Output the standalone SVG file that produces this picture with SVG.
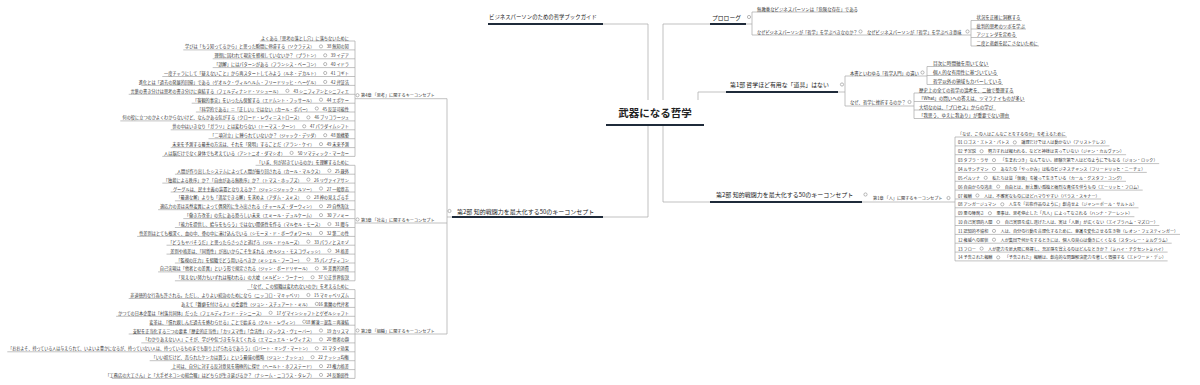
<svg xmlns="http://www.w3.org/2000/svg" width="1200" height="385" viewBox="0 0 1200 385">
<style>
text{font-family:"Noto Sans CJK JP","Noto Sans CJK SC",sans-serif;fill:#333;dominant-baseline:central}
.s{font-size:4.2px}
.r{font-size:4.15px}
.e{text-anchor:end}
.m{font-size:4.4px}
.g{font-size:4.6px}
.q{font-size:4.5px}
.n{font-size:4.3px}
.h{font-size:4.15px}
.p{font-size:5.9px;fill:#222}
.ti{font-size:10.5px;font-weight:700;fill:#222;text-anchor:middle}
.l{stroke:#a8a8a8;stroke-width:0.7;fill:none}
.k{stroke:#1f2b3a;stroke-width:2;fill:none}
.c{fill:#fff;stroke:#8a8a8a;stroke-width:0.6}
</style>
<rect width="1200" height="385" fill="#fff"/>
<g id="connectors">
<path class="l" d="M648 100V24H603M648 125V217H603M663 100V24H710M698 100V92H726M663 125V202H710"/>
<path class="l" d="M746 24H752M752 12V35M752 12H857M752 35H971M971 20.5V46M971 20.5H1021.5M971 29H1026M971 37.5H1017M971 46H1039"/>
<path class="l" d="M838 92H845M845 76V106M845 76H927M927 66.5V84.5M927 66.5H989M927 75.5H998M927 84.5H1003M845 106H914M914 93V118.5M914 93H1014M914 101.5H1025M914 110H996M914 118.5H1010"/>
<path class="l" d="M862 202H955M955 137V260.9"/>
<path class="l" d="M955 137H1066.9M955 145.9H1109.5M955 154.7H1126.1M955 163.6H1159.2M955 172.4H1146.8M955 181.3H1126M955 190.1H1142.7M955 199H1101.1M955 207.8H1138.5M955 216.7H1134.4M955 225.5H1159.3M955 234.4H1180M955 243.2H1171.7M955 252.1H1167.6M955 260.9H1167.6"/>
<path class="l" d="M447 217H452M447 98.7V334M355 98.7H447M355 223H447M355 334H447M355 41V156.4M355 165.3V280.8M355 289.6V378.4"/>
<path class="l" d="M259.8 41H355M183.3 49.9H355M212.7 58.8H355M212.7 67.6H355M162.3 76.5H355M141.3 85.4H355M128.7 94.3H355M191.7 103.2H355M195.9 112H355M120.3 120.9H355M170.7 129.8H355M208.5 138.7H355M170.7 147.6H355M162.3 156.4H355"/>
<path class="l" d="M255.6 165.3H355M174.9 174.2H355M162.3 183.1H355M170.7 192H355M174.9 200.8H355M158.1 209.7H355M183.3 218.6H355M174.9 227.5H355M137.1 236.4H355M166.5 245.2H355M166.5 254.1H355M174.9 263H355M158.1 271.9H355M174.9 280.8H355"/>
<path class="l" d="M247.2 289.6H355M128.7 298.5H355M183.3 307.4H355M116.1 316.3H355M149.7 325.2H355M128.7 334H355M141.3 342.9H355M7.3 351.8H355M149.7 360.7H355M170.7 369.6H355M111.9 378.4H355"/>
<path class="k" d="M488 24H603M710 24H746M726 92H838M452 217H603M710 202H862"/>
<path class="k" d="M606 125H704" stroke-width="2.5"/>
</g>
<g id="center"><text class="ti" x="655" y="112">武器になる哲学</text></g>
<g id="guide"><text class="p" x="489" y="16.5" style="font-size:5.4px">ビジネスパーソンのための哲学ブックガイド</text></g>
<g id="prologue"><text class="p" x="712" y="17" style="font-size:5.8px">プロローグ</text><circle class="c" cx="749" cy="17" r="1.6"/></g>
<g id="pro-a"><text class="m" x="757" y="8.5">無教養なビジネスパーソンは「危険な存在」である</text></g>
<g id="pro-b"><text class="s" x="757" y="31.5">なぜビジネスパーソンが「哲学」を学ぶべきなのか？</text><circle class="c" cx="860.5" cy="31.5" r="1.6"/></g>
<g id="pro-b2"><text class="n" x="867" y="31.5">なぜビジネスパーソンが「哲学」を学ぶべき意味</text><circle class="c" cx="967.5" cy="31.5" r="1.6"/></g>
<g id="pro-b2-kids">
<text class="m" x="976.5" y="17">状況を正確に洞察する</text>
<text class="m" x="976.5" y="25.5">批判的思考のツボを学ぶ</text>
<text class="m" x="976.5" y="34">アジェンダを定める</text>
<text class="m" x="976.5" y="42.5">二度と悲劇を起こさないために</text>
</g>
<g id="part1"><text class="p" x="730" y="84.5">第1部 哲学ほど有用な「道具」はない</text><circle class="c" cx="842" cy="84.5" r="1.6"/></g>
<g id="p1-c"><text class="n" x="850" y="72.5">本書といわゆる「哲学入門」の違い</text><circle class="c" cx="922.5" cy="72.5" r="1.6"/></g>
<g id="p1-c-kids">
<text class="g" x="933" y="63">目次に時間軸を用いてない</text>
<text class="g" x="933" y="72">個人的な有用性に基づいている</text>
<text class="g" x="933" y="81">哲学以外の領域もカバーしている</text>
</g>
<g id="p1-d"><text class="n" x="850" y="102">なぜ、哲学に挫折するのか？</text><circle class="c" cx="909.5" cy="102" r="1.6"/></g>
<g id="p1-d-kids">
<text class="q" x="919" y="89.5">歴史上の全ての哲学の論考を、二軸で整理する</text>
<text class="q" x="919" y="98">「What」の問いへの答えは、ツマラナイものが多い</text>
<text class="q" x="919" y="106.5">大切なのは、「プロセス」からの学び</text>
<text class="q" x="919" y="115">「我思う、ゆえに我あり」が重要でない理由</text>
</g>
<g id="part2-right"><text class="p" x="716" y="194.5" style="font-size:6px">第2部 知的戦闘力を最大化する50のキーコンセプト</text><circle class="c" cx="865.5" cy="194.5" r="1.6"/></g>
<g id="ch1"><text class="h" x="873" y="198">第1章 「人」に関するキーコンセプト</text><circle class="c" cx="948.5" cy="198" r="1.6"/></g>
<g id="ch1-list">
<text class="r" x="958" y="133.5">「なぜ、この人はこんなことをするのか」を考えるために</text>
<g id="n01"><text class="r" x="958" y="142.4">01 ロゴス・エトス・パトス</text><circle class="c" cx="1014.8" cy="142.4" r="1.6"/><text class="r" x="1021.3" y="142.4">論理だけでは人は動かない（アリストテレス）</text></g>
<g id="n02"><text class="r" x="958" y="151.2">02 予定説</text><circle class="c" cx="981.6" cy="151.2" r="1.6"/><text class="r" x="988.1" y="151.2">努力すれば報われる、などと神様は言っていない（ジャン・カルヴァン）</text></g>
<g id="n03"><text class="r" x="958" y="160.1">03 タブラ・ラサ</text><circle class="c" cx="994" cy="160.1" r="1.6"/><text class="r" x="1000.5" y="160.1">「生まれつき」なんてない。経験次第で人はどのようにでもなる（ジョン・ロック）</text></g>
<g id="n04"><text class="r" x="958" y="168.9">04 ルサンチマン</text><circle class="c" cx="994" cy="168.9" r="1.6"/><text class="r" x="1000.5" y="168.9">あなたの「やっかみ」は私のビジネスチャンス（フリードリッヒ・ニーチェ）</text></g>
<g id="n05"><text class="r" x="958" y="177.8">05 ペルソナ</text><circle class="c" cx="985.7" cy="177.8" r="1.6"/><text class="r" x="992.2" y="177.8">私たちは皆「仮面」を被って生きている（カール・グスタフ・ユング）</text></g>
<g id="n06"><text class="r" x="958" y="186.6">06 自由からの逃走</text><circle class="c" cx="998.2" cy="186.6" r="1.6"/><text class="r" x="1004.7" y="186.6">自由とは、耐え難い孤独と痛烈な責任を伴うもの（エーリッヒ・フロム）</text></g>
<g id="n07"><text class="r" x="958" y="195.5">07 報酬</text><circle class="c" cx="977.4" cy="195.5" r="1.6"/><text class="r" x="983.9" y="195.5">人は、不確実なものにほどハマりやすい（バラス・スキナー）</text></g>
<g id="n08"><text class="r" x="958" y="204.3">08 アンガージュマン</text><circle class="c" cx="1002.3" cy="204.3" r="1.6"/><text class="r" x="1008.8" y="204.3">人生を「芸術作品のように」創造せよ（ジャン＝ポール・サルトル）</text></g>
<g id="n09"><text class="r" x="958" y="213.2">09 悪の陳腐さ</text><circle class="c" cx="989.9" cy="213.2" r="1.6"/><text class="r" x="996.4" y="213.2">悪事は、思考停止した「凡人」によってなされる（ハンナ・アーレント）</text></g>
<g id="n10"><text class="r" x="958" y="222">10 自己実現的人間</text><circle class="c" cx="998.2" cy="222" r="1.6"/><text class="r" x="1004.7" y="222">自己実現を成し遂げた人は、実は「人脈」が広くない（エイブラハム・マズロー）</text></g>
<g id="n11"><text class="r" x="958" y="230.9">11 認知的不協和</text><circle class="c" cx="994" cy="230.9" r="1.6"/><text class="r" x="1000.5" y="230.9">人は、自分の行動を合理化するために、意識を変化させる生き物（レオン・フェスティンガー）</text></g>
<g id="n12"><text class="r" x="958" y="239.7">12 権威への服従</text><circle class="c" cx="994" cy="239.7" r="1.6"/><text class="r" x="1000.5" y="239.7">人が集団で何かをするときには、個人の良心は働きにくくなる（スタンレー・ミルグラム）</text></g>
<g id="n13"><text class="r" x="958" y="248.6">13 フロー</text><circle class="c" cx="981.6" cy="248.6" r="1.6"/><text class="r" x="988.1" y="248.6">人が能力を最大限に発揮し、充足感を覚えるのはどんなときか？（ミハイ・チクセントミハイ）</text></g>
<g id="n14"><text class="r" x="958" y="257.4">14 予告された報酬</text><circle class="c" cx="998.2" cy="257.4" r="1.6"/><text class="r" x="1004.7" y="257.4">「予告された」報酬は、創造的な問題解決能力を著しく毀損する（エドワード・デシ）</text></g>
</g>
<g id="part2-left"><text class="p" x="457" y="211" style="font-size:6px">第2部 知的戦闘力を最大化する50のキーコンセプト</text><circle class="c" cx="449.5" cy="211" r="1.6"/></g>
<g id="ch4"><text class="h" x="361" y="95.2">第4章 「思考」に関するキーコンセプト</text><circle class="c" cx="357.5" cy="95.2" r="1.6"/></g>
<g id="ch3"><text class="h" x="361" y="219.5">第3章 「社会」に関するキーコンセプト</text><circle class="c" cx="357.5" cy="219.5" r="1.6"/></g>
<g id="ch2"><text class="h" x="361" y="330.5">第2章 「組織」に関するキーコンセプト</text><circle class="c" cx="357.5" cy="330.5" r="1.6"/></g>
<g id="ch4-list">
<text class="s e" x="349" y="37.5">よくある「思考の落とし穴」に落ちないために</text>
<g id="n38"><text class="s e" x="314.5" y="46.4">学びは「もう知ってるから」と思った瞬間に停滞する（ソクラテス）</text><circle class="c" cx="321" cy="46.4" r="1.6"/><text class="s e" x="349" y="46.4">38 無知の知</text></g>
<g id="n39"><text class="s e" x="318.7" y="55.3">理想に囚われて現実を軽視していないか？（プラトン）</text><circle class="c" cx="325.2" cy="55.3" r="1.6"/><text class="s e" x="349" y="55.3">39 イデア</text></g>
<g id="n40"><text class="s e" x="318.7" y="64.1">「誤解」にはパターンがある（フランシス・ベーコン）</text><circle class="c" cx="325.2" cy="64.1" r="1.6"/><text class="s e" x="349" y="64.1">40 イドラ</text></g>
<g id="n41"><text class="s e" x="318.7" y="73">一度チャラにして「疑えないこと」から再スタートしてみよう（ルネ・デカルト）</text><circle class="c" cx="325.2" cy="73" r="1.6"/><text class="s e" x="349" y="73">41 コギト</text></g>
<g id="n42"><text class="s e" x="318.7" y="81.9">進化とは「過去の発展的回帰」である（ゲオルク・ヴィルヘルム・フリードリッヒ・ヘーゲル）</text><circle class="c" cx="325.2" cy="81.9" r="1.6"/><text class="s e" x="349" y="81.9">42 弁証法</text></g>
<g id="n43"><text class="s e" x="280.9" y="90.8">言葉の書き分けは思考の書き分けに直結する（フェルディナンド・ソシュール）</text><circle class="c" cx="287.4" cy="90.8" r="1.6"/><text class="s e" x="349" y="90.8">43 シニフィアンとシニフィエ</text></g>
<g id="n44"><text class="s e" x="314.5" y="99.7">「客観的事実」をいったん保留する（エドムント・フッサール）</text><circle class="c" cx="321" cy="99.7" r="1.6"/><text class="s e" x="349" y="99.7">44 エポケー</text></g>
<g id="n45"><text class="s e" x="310.3" y="108.5">「科学的である」＝「正しい」ではない（カール・ポパー）</text><circle class="c" cx="316.8" cy="108.5" r="1.6"/><text class="s e" x="349" y="108.5">45 反証可能性</text></g>
<g id="n46"><text class="s e" x="301.9" y="117.4">何の役に立つのかよくわからないけど、なんかある気がする（クロード・レヴィ＝ストロース）</text><circle class="c" cx="308.4" cy="117.4" r="1.6"/><text class="s e" x="349" y="117.4">46 ブリコラージュ</text></g>
<g id="n47"><text class="s e" x="297.7" y="126.3">世の中はいきなり「ガラリ」とは変わらない（トーマス・クーン）</text><circle class="c" cx="304.2" cy="126.3" r="1.6"/><text class="s e" x="349" y="126.3">47 パラダイムシフト</text></g>
<g id="n48"><text class="s e" x="318.7" y="135.2">「二項対立」に縛られていないか？（ジャック・デリダ）</text><circle class="c" cx="325.2" cy="135.2" r="1.6"/><text class="s e" x="349" y="135.2">48 脱構築</text></g>
<g id="n49"><text class="s e" x="314.5" y="144.1">未来を予測する最善の方法は、それを「発明」することだ（アラン・ケイ）</text><circle class="c" cx="321" cy="144.1" r="1.6"/><text class="s e" x="349" y="144.1">49 未来予測</text></g>
<g id="n50"><text class="s e" x="285.1" y="152.9">人は脳だけでなく身体でも考えている（アントニオ・ダマシオ）</text><circle class="c" cx="291.6" cy="152.9" r="1.6"/><text class="s e" x="349" y="152.9">50 ソマティック・マーカー</text></g>
</g>
<g id="ch3-list">
<text class="s e" x="349" y="161.8">「いま、何が起きているのか」を理解するために</text>
<g id="n25"><text class="s e" x="322.9" y="170.7">人間が作り出したシステムによって人間が振り回される（カール・マルクス）</text><circle class="c" cx="329.4" cy="170.7" r="1.6"/><text class="s e" x="349" y="170.7">25 疎外</text></g>
<g id="n26"><text class="s e" x="301.9" y="179.6">「独裁による秩序」か？「自由がある無秩序」か？（トマス・ホッブズ）</text><circle class="c" cx="308.4" cy="179.6" r="1.6"/><text class="s e" x="349" y="179.6">26 リヴァイアサン</text></g>
<g id="n27"><text class="s e" x="314.5" y="188.5">グーグルは、民主主義の装置となりえるか？（ジャン＝ジャック・ルソー）</text><circle class="c" cx="321" cy="188.5" r="1.6"/><text class="s e" x="349" y="188.5">27 一般意志</text></g>
<g id="n28"><text class="s e" x="301.9" y="197.3">「最適な解」よりも「満足できる解」を求めよ（アダム・スミス）</text><circle class="c" cx="308.4" cy="197.3" r="1.6"/><text class="s e" x="349" y="197.3">28 神の見えざる手</text></g>
<g id="n29"><text class="s e" x="314.5" y="206.2">適応力の差は突然変異によって偶発的に生み出される（チャールズ・ダーウィン）</text><circle class="c" cx="321" cy="206.2" r="1.6"/><text class="s e" x="349" y="206.2">29 自然淘汰</text></g>
<g id="n30"><text class="s e" x="314.5" y="215.1">「働き方改革」の先にある恐ろしい未来（エミール・デュルケーム）</text><circle class="c" cx="321" cy="215.1" r="1.6"/><text class="s e" x="349" y="215.1">30 アノミー</text></g>
<g id="n31"><text class="s e" x="322.9" y="224">「能力を提供し、給与をもらう」ではない関係性を作る（マルセル・モース）</text><circle class="c" cx="329.4" cy="224" r="1.6"/><text class="s e" x="349" y="224">31 贈与</text></g>
<g id="n32"><text class="s e" x="314.5" y="232.9">性差別はとても根深く、血の中、骨の中に溶け込んでいる（シモーヌ・ド・ボーヴォワール）</text><circle class="c" cx="321" cy="232.9" r="1.6"/><text class="s e" x="349" y="232.9">32 第二の性</text></g>
<g id="n33"><text class="s e" x="301.9" y="241.7">「どうもヤバそうだ」と思ったらさっさと逃げろ（ジル・ドゥルーズ）</text><circle class="c" cx="308.4" cy="241.7" r="1.6"/><text class="s e" x="349" y="241.7">33 パラノとスキゾ</text></g>
<g id="n34"><text class="s e" x="322.9" y="250.6">差別や格差は、「同質性」が高いからこそ生まれる（セルジュ・モスコヴィッシ）</text><circle class="c" cx="329.4" cy="250.6" r="1.6"/><text class="s e" x="349" y="250.6">34 格差</text></g>
<g id="n35"><text class="s e" x="301.9" y="259.5">「監視の圧力」を組織でどう用いるべきか（ミシェル・フーコー）</text><circle class="c" cx="308.4" cy="259.5" r="1.6"/><text class="s e" x="349" y="259.5">35 パノプティコン</text></g>
<g id="n36"><text class="s e" x="310.3" y="268.4">自己実現は「他者との差異」という形で規定される（ジャン・ボードリヤール）</text><circle class="c" cx="316.8" cy="268.4" r="1.6"/><text class="s e" x="349" y="268.4">36 差異的消費</text></g>
<g id="n37"><text class="s e" x="306.1" y="277.3">「見えない努力もいずれは報われる」の大嘘（メルビン・ラーナー）</text><circle class="c" cx="312.6" cy="277.3" r="1.6"/><text class="s e" x="349" y="277.3">37 公正世界仮説</text></g>
</g>
<g id="ch2-list">
<text class="s e" x="349" y="286.1">「なぜ、この組織は変われないのか」を考えるために</text>
<g id="n15"><text class="s e" x="301.9" y="295">非道徳的な行為も許される。ただし、よりよい統治のためになら（ニッコロ・マキャベリ）</text><circle class="c" cx="308.4" cy="295" r="1.6"/><text class="s e" x="349" y="295">15 マキャベリズム</text></g>
<g id="n16"><text class="s e" x="310.3" y="303.9">あえて「難癖を付ける人」の重要性（ジョン・スチュアート・ミル）</text><circle class="c" cx="316.8" cy="303.9" r="1.6"/><text class="s e" x="349" y="303.9">16 悪魔の代弁者</text></g>
<g id="n17"><text class="s e" x="264.1" y="312.8">かつての日本企業は「村落共同体」だった（フェルディナンド・テンニース）</text><circle class="c" cx="270.6" cy="312.8" r="1.6"/><text class="s e" x="349" y="312.8">17 ゲマインシャフトとゲゼルシャフト</text></g>
<g id="n18"><text class="s e" x="297.7" y="321.7">変革は、「慣れ親しんだ過去を終わらせる」ことで始まる（クルト・レヴィン）</text><circle class="c" cx="304.2" cy="321.7" r="1.6"/><text class="s e" x="349" y="321.7">18 解凍＝混乱＝再凍結</text></g>
<g id="n19"><text class="s e" x="314.5" y="330.5">支配を正当化する三つの要素「歴史的正当性」「カリスマ性」「合法性」（マックス・ヴェーバー）</text><circle class="c" cx="321" cy="330.5" r="1.6"/><text class="s e" x="349" y="330.5">19 カリスマ</text></g>
<g id="n20"><text class="s e" x="314.5" y="339.4">「わかりあえない人」こそが、学びや気づきを与えてくれる（エマニュエル・レヴィナス）</text><circle class="c" cx="321" cy="339.4" r="1.6"/><text class="s e" x="349" y="339.4">20 他者の顔</text></g>
<g id="n21"><text class="s" x="8.3" y="348.3" textLength="302" lengthAdjust="spacingAndGlyphs">「おおよそ、持っている人は与えられて、いよいよ豊かになるが、持っていない人は、持っているものまでも取り上げられるであろう」（ロバート・キング・マートン）</text><circle class="c" cx="316.8" cy="348.3" r="1.6"/><text class="s e" x="349" y="348.3">21 マタイ効果</text></g>
<g id="n22"><text class="s e" x="306.1" y="357.2">「いい奴だけど、売られたケンカは買う」という最強の戦略（ジョン・ナッシュ）</text><circle class="c" cx="312.6" cy="357.2" r="1.6"/><text class="s e" x="349" y="357.2">22 ナッシュ均衡</text></g>
<g id="n23"><text class="s e" x="314.5" y="366.1">上司は、自分に対する反対意見を積極的に探せ（ヘールト・ホフステード）</text><circle class="c" cx="321" cy="366.1" r="1.6"/><text class="s e" x="349" y="366.1">23 権力格差</text></g>
<g id="n24"><text class="s e" x="314.5" y="374.9">「工務店の大工さん」と「大手ゼネコンの総合職」はどちらが生き延びるか？（ナシーム・ニコラス・タレブ）</text><circle class="c" cx="321" cy="374.9" r="1.6"/><text class="s e" x="349" y="374.9">24 反脆弱性</text></g>
</g>
</svg>
